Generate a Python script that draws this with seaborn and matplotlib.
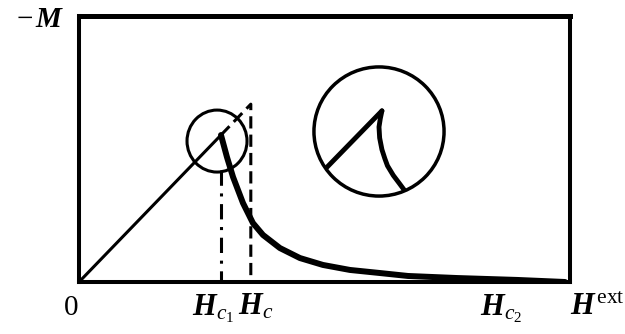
import numpy as np
import pandas as pd
import matplotlib
matplotlib.use("Agg")
import matplotlib.pyplot as plt
import seaborn as sns
from matplotlib.patches import Ellipse, Circle
from matplotlib.transforms import blended_transform_factory

# Field H in units of H_c1, magnetisation -M in units of -M(H_c1)
H_MAX = 3.458
M_MAX = 1.81

# Meissner branch: -M = H up to H_c1
meissner_h = [0.0, 1.0]
meissner_m = [0.0, 1.0]

# Continuation of the ideal type-I curve up to H_c (dashed)
type1_h = [1.0, 1.21, 1.21]
type1_m = [1.0, 1.21, 0.0]

# Mixed-state branch, H_c1 -> H_c2
mixed_h = [1.0, 1.042, 1.085, 1.155, 1.225, 1.296, 1.415, 1.556, 1.718,
           1.908, 2.120, 2.317, 2.662, 3.085, 3.423]
mixed_m = [1.0, 0.850, 0.714, 0.537, 0.401, 0.320, 0.231, 0.163, 0.116,
           0.082, 0.061, 0.041, 0.027, 0.014, 0.0]

# Dash-dot marker below H_c1
hc1_h = [1.0, 1.0]
hc1_m = [0.76, 0.0]

# Magnified cusp (inset units, circle of radius 1)
zoom_line_u = [-1.3, 0.045]
zoom_line_v = [-1.07, 0.32]
zoom_curve_u = [0.045, 0.02, 0.0, 0.01, 0.045, 0.09, 0.13, 0.22, 0.31, 0.42]
zoom_curve_v = [0.32, 0.20, 0.07, -0.10, -0.28, -0.42, -0.53, -0.68, -0.80, -0.95]

# Axis labels
tick_pos = [-0.056, 0.796, 1.12, 2.824, 3.458]
tick_txt = ["0", r"$\mathbf{H}_{c_1}$", r"$\mathbf{H}_c$", r"$\mathbf{H}_{c_2}$",
            r"$\mathbf{H}^{\,\mathrm{ext}}$"]

sns.set_theme(style="white")
plt.rcParams["font.family"] = ["Liberation Serif", "DejaVu Serif"]
plt.rcParams["mathtext.fontset"] = "custom"
plt.rcParams["mathtext.rm"] = "Liberation Serif"
plt.rcParams["mathtext.it"] = "Liberation Serif:italic"
plt.rcParams["mathtext.bf"] = "Liberation Serif:italic:bold"

W, Hpx = 625, 334
fig = plt.figure(figsize=(W / 100, Hpx / 100), dpi=100)
ax = fig.add_axes([79 / W, 1 - 282 / Hpx, 491 / W, 266 / Hpx])

sns.lineplot(x=meissner_h, y=meissner_m, ax=ax, color="black", lw=2.2,
             sort=False, estimator=None)
sns.lineplot(x=type1_h, y=type1_m, ax=ax, color="black", lw=2.2,
             sort=False, estimator=None, linestyle=(0, (4, 2)))
sns.lineplot(x=hc1_h, y=hc1_m, ax=ax, color="black", lw=2.2,
             sort=False, estimator=None, linestyle=(0, (5, 2.5, 1, 2.5)))
sns.lineplot(x=mixed_h, y=mixed_m, ax=ax, color="black", lw=4.3,
             sort=False, estimator=None, solid_capstyle="round")

# small magnifier around the cusp
ax.add_patch(Ellipse((0.972, 0.959), 60 / 142, 62 / 147, fill=False,
                     ec="black", lw=2.2, zorder=5))

ax.set_xlim(0, H_MAX)
ax.set_ylim(0, M_MAX)
ax.set_xticks([])
ax.set_yticks([])
for side, sp in ax.spines.items():
    sp.set_visible(True)
    sp.set_color("black")
    sp.set_linewidth(2.9)
ax.spines["top"].set_linewidth(3.6)

trans = blended_transform_factory(ax.transData, ax.transAxes)
for pos, txt in zip(tick_pos, tick_txt):
    if txt == "0":
        ax.text(pos, -0.124, txt, transform=trans, ha="center", va="baseline",
                fontsize=21, color="black")
    else:
        ax.text(pos, -0.124, txt, transform=trans, ha="left", va="baseline",
                fontsize=22, color="black")

# vertical axis label
fig.text(33 / W, 1 - 27 / Hpx, "\u2212", ha="right", va="baseline",
         fontsize=21, color="black")
fig.text(35 / W, 1 - 27 / Hpx, "M", ha="left", va="baseline",
         fontsize=21, color="black", fontstyle="italic", fontweight="bold")

# large magnified view of the cusp
ins = fig.add_axes([312 / W, 1 - 198 / Hpx, 134 / W, 133 / Hpx])
ins.set_xlim(-1.03, 1.03)
ins.set_ylim(-1.03, 1.03)
ins.axis("off")
ins.add_patch(Circle((0, 0), 1.0, fill=False, ec="black", lw=2.5))
clip = Circle((0, 0), 1.0, transform=ins.transData)
l1, = ins.plot(zoom_line_u, zoom_line_v, color="black", lw=3.5,
               solid_joinstyle="miter")
l2, = ins.plot(zoom_curve_u, zoom_curve_v, color="black", lw=3.5)
l1.set_clip_path(clip)
l2.set_clip_path(clip)

fig.savefig("out.png", dpi=100, facecolor="white")
